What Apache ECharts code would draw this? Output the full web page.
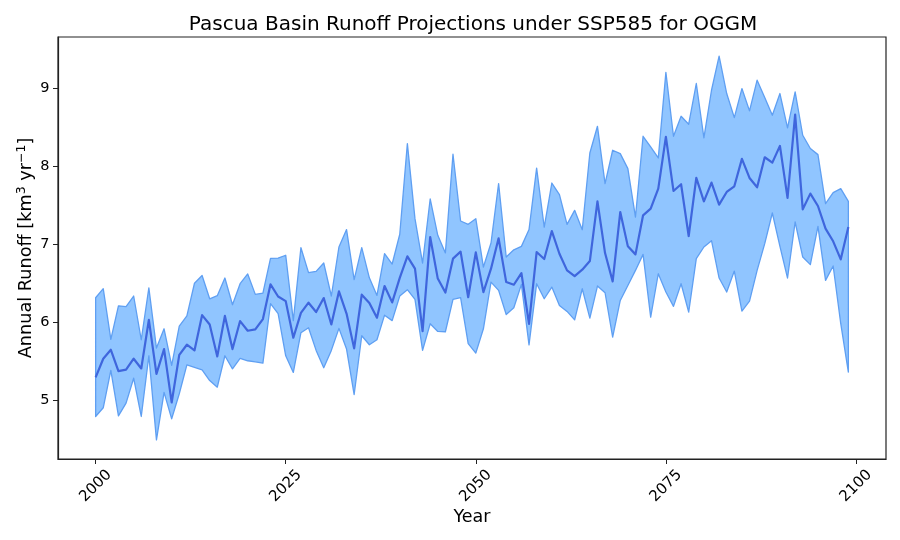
<!DOCTYPE html>
<html><head><meta charset="utf-8">
<style>html,body{margin:0;padding:0;background:#fff}#c{width:900px;height:540px}</style>
<script src="https://cdn.jsdelivr.net/npm/echarts@6/dist/echarts.min.js"></script>
</head><body><div id="c"></div>
<script>
const years = Array.from({length:100},(_, i)=>2000+i);
const meanRunoff = [5.29,5.53,5.645,5.37,5.39,5.53,5.405,6.03,5.335,5.654,4.968,5.58,5.71,5.637,6.09,5.97,5.56,6.08,5.654,6.014,5.89,5.907,6.04,6.486,6.33,6.27,5.80,6.12,6.25,6.13,6.31,5.97,6.395,6.11,5.663,6.353,6.245,6.057,6.464,6.254,6.57,6.846,6.687,5.885,7.094,6.56,6.38,6.816,6.906,6.32,6.897,6.386,6.687,7.077,6.515,6.481,6.631,5.979,6.901,6.811,7.171,6.879,6.665,6.592,6.674,6.785,7.553,6.888,6.524,7.415,6.974,6.871,7.373,7.458,7.715,8.38,7.686,7.772,7.107,7.853,7.553,7.793,7.51,7.673,7.746,8.098,7.853,7.733,8.119,8.05,8.265,7.596,8.668,7.45,7.652,7.493,7.202,7.039,6.807,7.223];
const upperRunoff = [6.314,6.43,5.78,6.21,6.20,6.336,5.774,6.44,5.667,5.915,5.444,5.95,6.08,6.50,6.60,6.30,6.34,6.567,6.224,6.494,6.62,6.357,6.374,6.82,6.824,6.86,6.02,6.957,6.636,6.653,6.76,6.336,6.966,7.19,6.546,6.957,6.57,6.344,6.88,6.747,7.13,8.295,7.33,6.76,7.583,7.116,6.89,8.158,7.30,7.257,7.33,6.708,7.017,7.78,6.837,6.93,6.974,7.19,7.98,7.22,7.788,7.638,7.257,7.437,7.188,8.174,8.517,7.78,8.209,8.166,7.973,7.351,8.389,8.251,8.11,9.21,8.389,8.646,8.544,9.067,8.368,8.98,9.418,8.938,8.629,9.002,8.715,9.11,8.887,8.659,8.938,8.496,8.96,8.402,8.231,8.153,7.523,7.665,7.716,7.553];
const lowerRunoff = [4.788,4.90,5.38,4.796,4.96,5.28,4.788,5.568,4.488,5.097,4.758,5.08,5.45,5.42,5.388,5.25,5.165,5.568,5.40,5.534,5.504,5.49,5.474,6.237,6.11,5.568,5.354,5.864,5.928,5.637,5.414,5.637,5.92,5.654,5.07,5.825,5.71,5.774,6.09,6.02,6.336,6.417,6.293,5.637,5.98,5.881,5.877,6.293,6.314,5.723,5.602,5.915,6.515,6.408,6.099,6.185,6.485,5.709,6.494,6.301,6.451,6.215,6.138,6.03,6.429,6.052,6.464,6.378,5.808,6.279,6.472,6.665,6.871,6.065,6.622,6.387,6.203,6.494,6.13,6.816,6.966,7.047,6.567,6.387,6.657,6.143,6.271,6.666,7.009,7.403,6.974,6.567,7.287,6.837,6.739,7.232,6.537,6.722,5.98,5.358];
const xTicks = [2000,2025,2050,2075,2100];
const yTicks = [5,6,7,8,9];

const font = 'DejaVu Sans';
const ink = '#222';
const chart = echarts.init(document.getElementById('c'), null, {renderer:'canvas'});
chart.setOption({
  animation:false,
  backgroundColor:'#fff',
  title:{text:'Pascua Basin Runoff Projections under SSP585 for OGGM',left:468,top:10,textAlign:'center',
    textStyle:{fontFamily:font,fontSize:20,fontWeight:'normal',color:'#000'}},
  grid:{left:58,top:37,width:828,height:422,show:true,borderColor:ink,borderWidth:1.2,backgroundColor:'transparent'},
  xAxis:{type:'value',min:1995.05,max:2103.95,name:'Year',nameLocation:'middle',nameGap:49,nameMoveOverlap:false,
    nameTextStyle:{fontFamily:font,fontSize:17.5,color:'#000'},
    splitLine:{show:false},
    axisLine:{show:true,lineStyle:{color:ink,width:1.2}},
    axisTick:{show:true,length:5,customValues:xTicks,lineStyle:{color:ink,width:1}},
    axisLabel:{customValues:xTicks,rotate:45,margin:27,align:'center',verticalAlign:'middle',fontFamily:font,fontSize:15,color:'#000',
      formatter:v=>String(v)}},
  yAxis:{type:'value',min:4.2415,max:9.6645,name:'Annual Runoff [km{s|3} yr{s|−1}]',nameLocation:'middle',nameGap:20,nameMoveOverlap:false,
    nameTextStyle:{fontFamily:font,fontSize:17.7,color:'#000',
      rich:{s:{fontFamily:font,fontSize:12.5,verticalAlign:'top',padding:[0,0,10,0],color:'#000'}}},
    splitLine:{show:false},
    axisLine:{show:true,lineStyle:{color:ink,width:1.2}},
    axisTick:{show:true,length:5,customValues:yTicks,lineStyle:{color:ink,width:1}},
    axisLabel:{customValues:yTicks,margin:8.5,fontFamily:font,fontSize:14.5,color:'#000',formatter:v=>String(v)}},
  series:[
    {type:'custom',name:'Range',coordinateSystem:'cartesian2d',clip:false,z:2,
     data:years.map((y,i)=>[y,lowerRunoff[i],upperRunoff[i]]),
     encode:{x:0,y:[1,2]},
     renderItem:(params,api)=>{
       if(params.dataIndex!==0) return null;
       const top=years.map((y,i)=>api.coord([y,upperRunoff[i]]));
       const bot=years.map((y,i)=>api.coord([y,lowerRunoff[i]])).reverse();
       return {type:'polygon',shape:{points:top.concat(bot)},
         style:{fill:'#90c5ff',stroke:'#5f9ff2',lineWidth:1.3,lineJoin:'round'}};
     }},
    {type:'line',name:'Mean',data:years.map((y,i)=>[y,meanRunoff[i]]),showSymbol:false,symbol:'none',z:3,
     lineStyle:{color:'#3f66dd',width:2.2,join:'round'},itemStyle:{color:'#3f66dd'}}
  ]
});
</script></body></html>
